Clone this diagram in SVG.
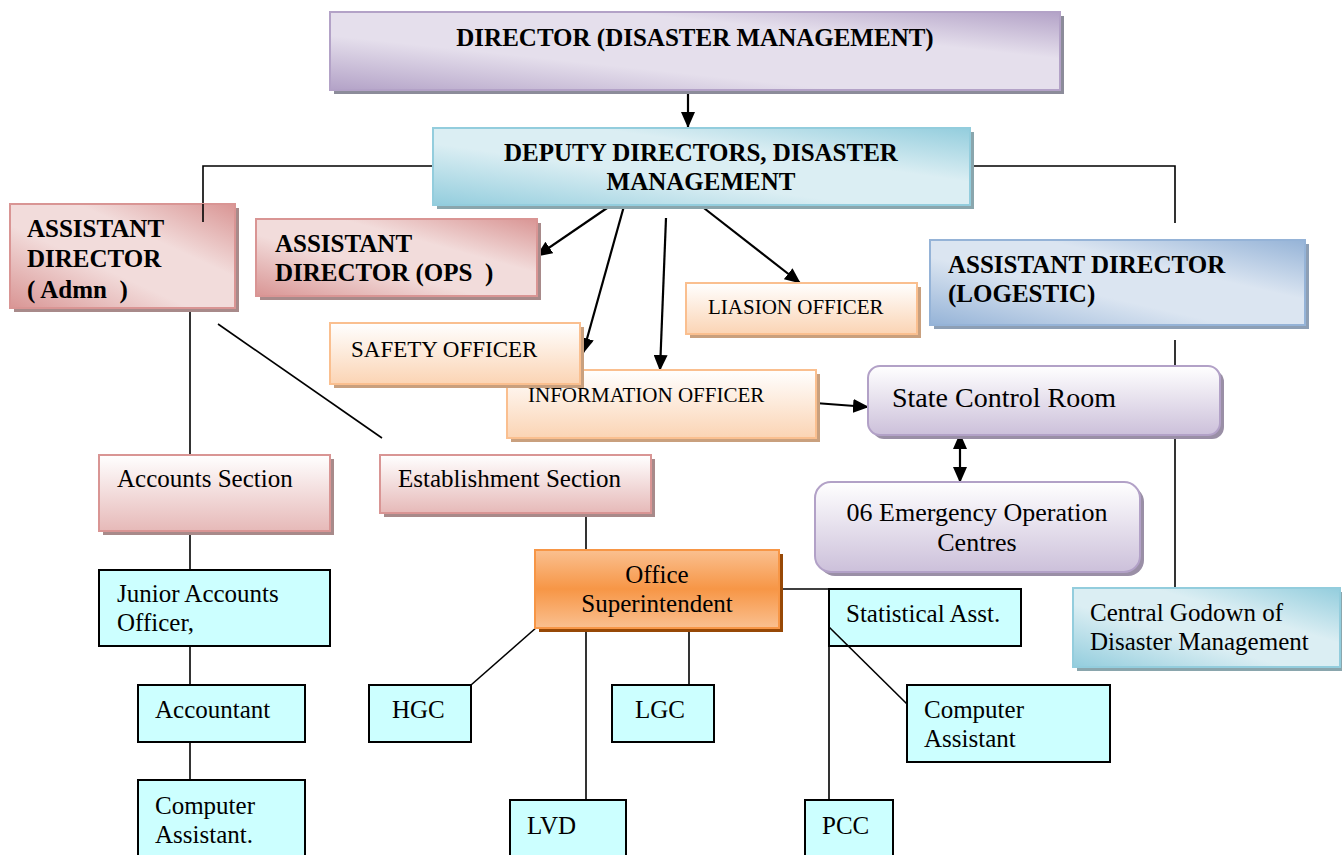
<svg xmlns="http://www.w3.org/2000/svg" width="1342" height="855" viewBox="0 0 1342 855">
  <style>
    .t { font-family: "Liberation Serif", "Times New Roman", serif; fill: #000; }
    .b { font-weight: bold; font-size: 25px; }
    .r { font-size: 25px; }
    .ln { stroke: #000; stroke-width: 1.6; fill: none; }
    .ar { stroke: #000; stroke-width: 2.2; fill: none; marker-end: url(#ah); }
    .cy { fill: #ccffff; stroke: #000; stroke-width: 2; }
  </style>
  <defs>
    <marker id="ah" markerUnits="userSpaceOnUse" markerWidth="16" markerHeight="14" refX="15" refY="7" orient="auto-start-reverse">
      <path d="M0,0 L16,7 L0,14 z" fill="#000"/>
    </marker>
    <linearGradient id="gPurple" x1="0" y1="1" x2="1" y2="0">
      <stop offset="0" stop-color="#b3a2c7"/>
      <stop offset="0.35" stop-color="#e5dfec"/>
      <stop offset="0.7" stop-color="#e5dfec"/>
      <stop offset="1" stop-color="#b3a2c7"/>
    </linearGradient>
    <linearGradient id="gBlue" x1="0" y1="1" x2="1" y2="0">
      <stop offset="0" stop-color="#93cddd"/>
      <stop offset="0.4" stop-color="#dbeef3"/>
      <stop offset="0.65" stop-color="#dbeef3"/>
      <stop offset="1" stop-color="#93cddd"/>
    </linearGradient>
    <linearGradient id="gPink" x1="0" y1="1" x2="1" y2="0">
      <stop offset="0" stop-color="#d99594"/>
      <stop offset="0.4" stop-color="#f2dcdb"/>
      <stop offset="0.65" stop-color="#f2dcdb"/>
      <stop offset="1" stop-color="#d99594"/>
    </linearGradient>
    <linearGradient id="gSteel" x1="0" y1="1" x2="1" y2="0">
      <stop offset="0" stop-color="#95b3d7"/>
      <stop offset="0.4" stop-color="#dbe5f1"/>
      <stop offset="0.65" stop-color="#dbe5f1"/>
      <stop offset="1" stop-color="#95b3d7"/>
    </linearGradient>
    <linearGradient id="gPinkV" x1="0" y1="0" x2="0" y2="1">
      <stop offset="0" stop-color="#ffffff"/>
      <stop offset="1" stop-color="#e6b9b8"/>
    </linearGradient>
    <linearGradient id="gPeach" x1="0" y1="0" x2="0" y2="1">
      <stop offset="0" stop-color="#ffffff"/>
      <stop offset="1" stop-color="#fbd4b4"/>
    </linearGradient>
    <linearGradient id="gLav" x1="0" y1="0" x2="0" y2="1">
      <stop offset="0" stop-color="#ffffff"/>
      <stop offset="1" stop-color="#ccc0da"/>
    </linearGradient>
    <linearGradient id="gOrange" x1="0" y1="0" x2="0" y2="1">
      <stop offset="0" stop-color="#fac090"/>
      <stop offset="0.5" stop-color="#f79646"/>
      <stop offset="1" stop-color="#fac090"/>
    </linearGradient>
  </defs>

  <rect width="1342" height="855" fill="#ffffff"/>

  <!-- connectors drawn beneath the boxes -->
  <g id="connectors">
    <!-- director to deputy -->
    <line class="ar" x1="688" y1="90" x2="688" y2="127"/>
    <!-- deputy side branches -->
    <polyline class="ln" points="433,166 203,166 203,204"/>
    <polyline class="ln" points="970,166 1175,166 1175,223"/>
    <line class="ln" x1="1175" y1="340" x2="1175" y2="588"/>
    <!-- deputy to operational units -->
    <line class="ar" x1="610" y1="206" x2="537" y2="256"/>
    <line class="ar" x1="624" y1="206" x2="583" y2="353"/>
    <line class="ar" x1="666" y1="218" x2="660" y2="370"/>
    <line class="ar" x1="700" y1="205" x2="800" y2="283"/>
    <!-- information officer to control room -->
    <line class="ar" x1="815" y1="403" x2="868" y2="407"/>
    <!-- control room to EOCs -->
    <line class="ar" x1="960" y1="434" x2="960" y2="482" marker-start="url(#ah)"/>
    <!-- admin branch -->
    <line class="ln" x1="190" y1="308" x2="190" y2="455"/>
    <line class="ln" x1="218" y1="324" x2="382" y2="438"/>
    <line class="ln" x1="190" y1="531" x2="190" y2="570"/>
    <line class="ln" x1="190" y1="646" x2="190" y2="685"/>
    <line class="ln" x1="190" y1="742" x2="190" y2="780"/>
    <!-- establishment branch -->
    <line class="ln" x1="586" y1="513" x2="586" y2="550"/>
    <line class="ln" x1="537" y1="627" x2="471" y2="685"/>
    <line class="ln" x1="586" y1="628" x2="586" y2="800"/>
    <line class="ln" x1="689" y1="628" x2="689" y2="685"/>
    <polyline class="ln" points="779,589 829,589 829,800"/>
  </g>

  <!-- nodes -->
  <g id="director">
    <rect x="334" y="16" width="730" height="78" fill="#8c8c9a"/>
    <rect x="330" y="12" width="730" height="78" fill="url(#gPurple)" stroke="#b3a2c7" stroke-width="2"/>
    <text class="t b" x="695" y="46" text-anchor="middle">DIRECTOR (DISASTER MANAGEMENT)</text>
  </g>

  <g id="deputy">
    <rect x="437" y="132" width="537" height="77" fill="#8aa6ad"/>
    <rect x="433" y="128" width="537" height="77" fill="url(#gBlue)" stroke="#93cddd" stroke-width="2"/>
    <text class="t b" x="701" y="161" text-anchor="middle">DEPUTY DIRECTORS, DISASTER</text>
    <text class="t b" x="701" y="190" text-anchor="middle">MANAGEMENT</text>
  </g>

  <g id="ad-admn">
    <rect x="14" y="208" width="225" height="104" fill="#a88a8a"/>
    <rect x="10" y="204" width="225" height="104" fill="url(#gPink)" stroke="#d99594" stroke-width="2"/>
    <text class="t b" x="27" y="237">ASSISTANT</text>
    <text class="t b" x="27" y="267">DIRECTOR</text>
    <text class="t b" x="27" y="298" xml:space="preserve">( Admn  )</text>
  </g>

  <g id="ad-ops">
    <rect x="260" y="223" width="281" height="77" fill="#a88a8a"/>
    <rect x="256" y="219" width="281" height="77" fill="url(#gPink)" stroke="#d99594" stroke-width="2"/>
    <text class="t b" x="275" y="252">ASSISTANT</text>
    <text class="t b" x="275" y="281" xml:space="preserve">DIRECTOR (OPS  )</text>
  </g>

  <g id="liaison-officer">
    <rect x="690" y="287" width="231" height="51" fill="#c9a07e"/>
    <rect x="686" y="283" width="231" height="51" fill="url(#gPeach)" stroke="#fabf8f" stroke-width="2"/>
    <text class="t" x="708" y="314" font-size="21">LIASION OFFICER</text>
  </g>

  <g id="ad-logistic">
    <rect x="934" y="244" width="375" height="85" fill="#8d9fb5"/>
    <rect x="930" y="240" width="375" height="85" fill="url(#gSteel)" stroke="#95b3d7" stroke-width="2"/>
    <text class="t b" x="948" y="273">ASSISTANT DIRECTOR</text>
    <text class="t b" x="948" y="302">(LOGESTIC)</text>
  </g>

  <g id="information-officer">
    <rect x="511" y="374" width="309" height="68" fill="#c9a07e"/>
    <rect x="507" y="370" width="309" height="68" fill="url(#gPeach)" stroke="#fabf8f" stroke-width="2"/>
    <text class="t" x="528" y="402" font-size="21">INFORMATION OFFICER</text>
  </g>

  <g id="safety-officer">
    <rect x="334" y="327" width="250" height="61" fill="#c9a07e"/>
    <rect x="330" y="323" width="250" height="61" fill="url(#gPeach)" stroke="#fabf8f" stroke-width="2"/>
    <text class="t" x="351" y="357" font-size="23">SAFETY OFFICER</text>
  </g>

  <g id="state-control-room">
    <rect x="872" y="370" width="352" height="69" rx="12" fill="#9a8fa6"/>
    <rect x="868" y="366" width="352" height="69" rx="12" fill="url(#gLav)" stroke="#b2a1c7" stroke-width="2"/>
    <text class="t" x="892" y="407" font-size="28">State Control Room</text>
  </g>

  <g id="eoc">
    <rect x="819" y="486" width="325" height="90" rx="16" fill="#9a8fa6"/>
    <rect x="815" y="482" width="325" height="90" rx="16" fill="url(#gLav)" stroke="#b2a1c7" stroke-width="2"/>
    <text class="t" x="977" y="521" font-size="26" text-anchor="middle">06 Emergency Operation</text>
    <text class="t" x="977" y="551" font-size="26" text-anchor="middle">Centres</text>
  </g>

  <g id="central-godown">
    <rect x="1077" y="592" width="267" height="79" fill="#8aa6ad"/>
    <rect x="1073" y="588" width="267" height="79" fill="url(#gBlue)" stroke="#93cddd" stroke-width="2"/>
    <text class="t r" x="1090" y="621">Central Godown of</text>
    <text class="t r" x="1090" y="650">Disaster Management</text>
  </g>

  <g id="accounts-section">
    <rect x="103" y="459" width="231" height="76" fill="#a88a8a"/>
    <rect x="99" y="455" width="231" height="76" fill="url(#gPinkV)" stroke="#d99594" stroke-width="2"/>
    <text class="t r" x="117" y="487">Accounts Section</text>
  </g>

  <g id="establishment-section">
    <rect x="384" y="459" width="271" height="58" fill="#a88a8a"/>
    <rect x="380" y="455" width="271" height="58" fill="url(#gPinkV)" stroke="#d99594" stroke-width="2"/>
    <text class="t r" x="398" y="487">Establishment Section</text>
  </g>

  <g id="office-superintendent">
    <rect x="539" y="554" width="244" height="78" fill="#974806"/>
    <rect x="535" y="550" width="244" height="78" fill="url(#gOrange)" stroke="#f79646" stroke-width="2"/>
    <text class="t r" x="657" y="583" text-anchor="middle">Office</text>
    <text class="t r" x="657" y="612" text-anchor="middle">Superintendent</text>
  </g>

  <g id="junior-accounts-officer">
    <rect x="99" y="570" width="231" height="76" class="cy"/>
    <text class="t r" x="117" y="602">Junior Accounts</text>
    <text class="t r" x="117" y="631">Officer,</text>
  </g>

  <g id="accountant">
    <rect x="138" y="685" width="167" height="57" class="cy"/>
    <text class="t r" x="155" y="718">Accountant</text>
  </g>

  <g id="computer-assistant-accounts">
    <rect x="138" y="780" width="167" height="80" class="cy"/>
    <text class="t r" x="155" y="814">Computer</text>
    <text class="t r" x="155" y="843">Assistant.</text>
  </g>

  <g id="hgc">
    <rect x="369" y="685" width="102" height="57" class="cy"/>
    <text class="t r" x="392" y="718">HGC</text>
  </g>

  <g id="lgc">
    <rect x="612" y="685" width="102" height="57" class="cy"/>
    <text class="t r" x="635" y="718">LGC</text>
  </g>

  <g id="lvd">
    <rect x="510" y="800" width="116" height="60" class="cy"/>
    <text class="t r" x="527" y="834">LVD</text>
  </g>

  <g id="statistical-asst">
    <rect x="829" y="589" width="192" height="57" class="cy"/>
    <text class="t r" x="846" y="622">Statistical Asst.</text>
  </g>

  <g id="computer-assistant-est">
    <rect x="907" y="685" width="203" height="77" class="cy"/>
    <text class="t r" x="924" y="718">Computer</text>
    <text class="t r" x="924" y="747">Assistant</text>
  </g>

  <g id="pcc">
    <rect x="805" y="800" width="88" height="60" class="cy"/>
    <text class="t r" x="822" y="834">PCC</text>
  </g>

  <!-- connectors that run over the boxes -->
  <g id="connectors-over">
    <line class="ln" x1="203" y1="204" x2="203" y2="222"/>
    <line class="ln" x1="829" y1="627" x2="907" y2="704"/>
  </g>
</svg>
